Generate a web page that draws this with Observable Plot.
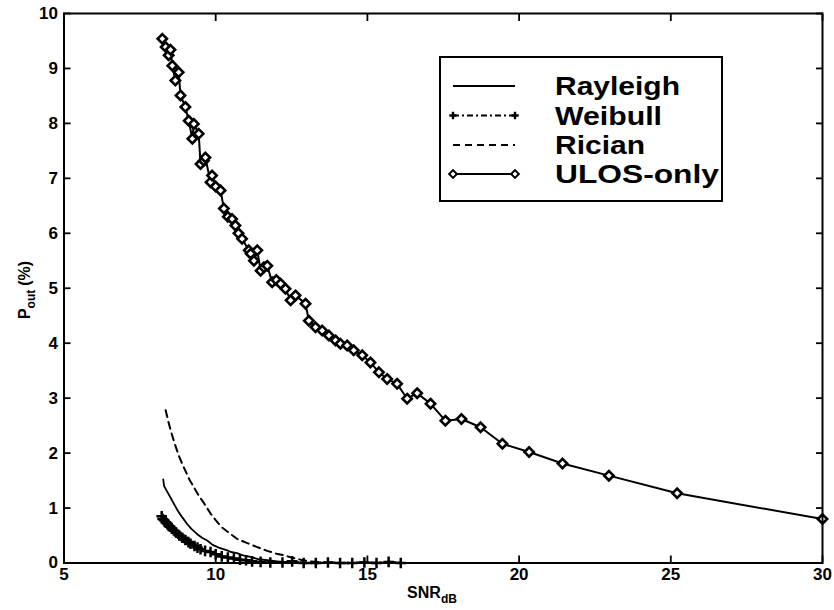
<!DOCTYPE html>
<html>
<head>
<meta charset="utf-8">
<script src="https://cdn.jsdelivr.net/npm/d3@7"></script>
<script src="https://cdn.jsdelivr.net/npm/@observablehq/plot@0.6"></script>
<style>
  body { margin: 0; background: #fff; }
  #wrap { position: relative; width: 834px; height: 610px; }
  #legend { position: absolute; left: 439px; top: 56px; }
</style>
</head>
<body>
<div id="wrap"><div id="chart"></div><div id="legend"></div></div>
<script>
// ---- data ----
const xTicks = [5, 10, 15, 20, 25, 30];
const yTicks = [0, 1, 2, 3, 4, 5, 6, 7, 8, 9, 10];
const seriesNames = ["Rayleigh", "Weibull", "Rician", "ULOS-only"];

const ulosSnr = [8.24, 8.35, 8.45, 8.51, 8.57, 8.67, 8.78, 8.84, 9.00, 9.11, 9.23, 9.28, 9.44, 9.50, 9.61, 9.66, 9.83, 9.88, 10.00, 10.16, 10.27, 10.40, 10.54, 10.65, 10.75, 10.87, 11.09, 11.15, 11.26, 11.37, 11.48, 11.59, 11.70, 11.86, 12.00, 12.14, 12.30, 12.47, 12.63, 12.96, 13.07, 13.29, 13.51, 13.73, 13.95, 14.11, 14.33, 14.55, 14.83, 15.10, 15.38, 15.65, 15.98, 16.31, 16.64, 17.08, 17.57, 18.10, 18.73, 19.45, 20.33, 21.43, 22.96, 25.21, 30.00];
const ulosP   = [9.54, 9.39, 9.24, 9.34, 9.05, 8.78, 8.93, 8.51, 8.30, 8.05, 7.72, 7.99, 7.81, 7.26, 7.32, 7.38, 6.93, 7.05, 6.85, 6.78, 6.45, 6.30, 6.26, 6.14, 6.00, 5.90, 5.69, 5.63, 5.50, 5.69, 5.32, 5.38, 5.41, 5.11, 5.15, 5.08, 4.99, 4.78, 4.87, 4.72, 4.41, 4.29, 4.23, 4.14, 4.05, 3.99, 3.96, 3.87, 3.78, 3.65, 3.47, 3.35, 3.26, 2.99, 3.09, 2.90, 2.59, 2.62, 2.47, 2.17, 2.02, 1.81, 1.59, 1.27, 0.80];

const rayleighSnr = [8.27, 8.30, 8.40, 8.50, 8.62, 8.75, 8.90, 9.06, 9.20, 9.40, 9.55, 9.72, 9.90, 10.10, 10.20, 10.38, 10.50, 10.70, 10.90, 11.15, 11.40, 11.70, 12.03, 12.40, 12.80];
const rayleighP   = [1.52, 1.40, 1.30, 1.20, 1.08, 0.95, 0.83, 0.71, 0.62, 0.52, 0.46, 0.41, 0.33, 0.28, 0.26, 0.23, 0.20, 0.18, 0.14, 0.11, 0.07, 0.05, 0.03, 0.01, 0.00];

const ricianSnr = [8.35, 8.45, 8.55, 8.65, 8.78, 8.90, 9.05, 9.15, 9.28, 9.45, 9.60, 9.83, 10.00, 10.20, 10.49, 10.70, 11.00, 11.37, 11.70, 12.00, 12.24, 12.50, 12.80, 13.10, 13.50];
const ricianP   = [2.78, 2.55, 2.35, 2.17, 1.96, 1.80, 1.62, 1.50, 1.38, 1.22, 1.10, 0.90, 0.78, 0.65, 0.53, 0.44, 0.37, 0.29, 0.22, 0.17, 0.14, 0.10, 0.06, 0.03, 0.01];

const weibullSnr = [8.22, 8.25, 8.30, 8.35, 8.40, 8.45, 8.50, 8.55, 8.62, 8.70, 8.80, 8.90, 9.00, 9.10, 9.17, 9.30, 9.40, 9.50, 9.65, 9.83, 10.00, 10.20, 10.40, 10.60, 10.80, 11.00, 11.20, 11.48, 11.80, 12.20, 12.52, 12.90, 13.30, 13.70, 14.10, 14.50, 14.90, 15.30, 15.70, 16.10];
const weibullP   = [0.85, 0.80, 0.78, 0.74, 0.72, 0.68, 0.66, 0.63, 0.59, 0.55, 0.50, 0.46, 0.42, 0.38, 0.35, 0.31, 0.28, 0.25, 0.22, 0.20, 0.16, 0.12, 0.10, 0.08, 0.06, 0.05, 0.03, 0.02, 0.01, 0.01, 0.03, 0.00, 0.00, 0.01, 0.00, 0.00, 0.01, 0.00, 0.02, 0.00];

const toRows = (xs, ys) => xs.map((x, i) => ({x, y: ys[i]}));
const ulos = toRows(ulosSnr, ulosP);
const rayleigh = toRows(rayleighSnr, rayleighP);
const rician = toRows(ricianSnr, ricianP);
const weibull = toRows(weibullSnr, weibullP);

const FONT = "'Liberation Sans', Arial, Helvetica, sans-serif";
const W = 834, H = 610, ML = 63.5, MR = 12, MT = 13, MB = 47.5;
const TICK = 7;

const chart = Plot.plot({
  width: W,
  height: H,
  marginLeft: ML,
  marginRight: MR,
  marginTop: MT,
  marginBottom: MB,
  style: {fontFamily: FONT, fontSize: "17px", fontWeight: "bold", background: "#fff", color: "#000"},
  x: {domain: [5, 30], ticks: xTicks, label: null},
  y: {domain: [0, 10], ticks: yTicks, label: null},
  marks: [
    // inward ticks on all four sides (MATLAB style box): outward axis ticks shifted inside
    Plot.axisX(xTicks, {anchor: "bottom", tickSize: TICK, text: null, dy: -TICK, stroke: "#000", strokeWidth: 1.8}),
    Plot.axisX(xTicks, {anchor: "top", tickSize: TICK, text: null, dy: TICK, stroke: "#000", strokeWidth: 1.8}),
    Plot.axisY(yTicks, {anchor: "left", tickSize: TICK, text: null, dx: TICK, stroke: "#000", strokeWidth: 1.8}),
    Plot.axisY(yTicks, {anchor: "right", tickSize: TICK, text: null, dx: -TICK, stroke: "#000", strokeWidth: 1.8}),
    Plot.axisX(xTicks, {anchor: "bottom", tickSize: 0, tickPadding: 5, tickFormat: d => String(d), fontSize: 17, fontWeight: "bold"}),
    Plot.axisY(yTicks, {anchor: "left", tickSize: 0, tickPadding: 6, tickFormat: d => String(d), fontSize: 17, fontWeight: "bold"}),
    // curves
    Plot.line(rician, {x: "x", y: "y", stroke: "#000", strokeWidth: 2, strokeDasharray: "7,5"}),
    Plot.line(rayleigh, {x: "x", y: "y", stroke: "#000", strokeWidth: 1.8}),
    Plot.line(weibull, {x: "x", y: "y", stroke: "#000", strokeWidth: 2.5, strokeDasharray: "6,3,2,3"}),
    Plot.dot(weibull, {x: "x", y: "y", symbol: "plus", r: 3.5, stroke: "#000", strokeWidth: 2.5}),
    Plot.line(ulos, {x: "x", y: "y", stroke: "#000", strokeWidth: 2}),
    Plot.dot(ulos, {x: "x", y: "y", symbol: "diamond2", r: 4.2, fill: "#fff", stroke: "#000", strokeWidth: 2.6}),
    Plot.frame({stroke: "#000", strokeWidth: 2})
  ]
});
document.getElementById("chart").appendChild(chart);

// axis titles with subscripts
const svg = d3.select(chart);
const yl = svg.append("text")
  .attr("transform", "translate(30,290) rotate(-90)")
  .attr("text-anchor", "middle")
  .style("font-family", FONT).style("font-weight", "bold").style("font-size", "16px");
yl.append("tspan").text("P");
yl.append("tspan").attr("dy", 5).style("font-size", "12px").text("out");
yl.append("tspan").attr("dy", -5).attr("dx", 4).text("(%)");

const xl = svg.append("text")
  .attr("x", 432).attr("y", 598)
  .attr("text-anchor", "middle")
  .style("font-family", FONT).style("font-weight", "bold").style("font-size", "16px");
xl.append("tspan").text("SNR");
xl.append("tspan").attr("dy", 5).style("font-size", "12px").text("dB");

// legend box
const lw = 284, lh = 146;
const lg = d3.select("#legend").append("svg").attr("width", lw).attr("height", lh);
lg.append("rect").attr("x", 1).attr("y", 1).attr("width", lw - 2).attr("height", lh - 2)
  .attr("fill", "#fff").attr("stroke", "#000").attr("stroke-width", 2);
const rowsY = [30, 59.5, 89, 118];
const textW = [125, 107, 90, 164];
const dashes = [null, "6,3,2,3", "7,5", null];
seriesNames.forEach((name, i) => {
  const y = rowsY[i];
  lg.append("line").attr("x1", 14).attr("x2", 76).attr("y1", y).attr("y2", y)
    .attr("stroke", "#000").attr("stroke-width", 2)
    .attr("stroke-dasharray", dashes[i]);
  if (i === 1) {
    [14, 76].forEach(px => lg.append("path").attr("d", d3.symbol(d3.symbolCross, 30)())
      .attr("transform", `translate(${px},${y})`).attr("fill", "#000"));
  }
  if (i === 3) {
    [14, 76].forEach(px => lg.append("path").attr("d", d3.symbol(d3.symbolSquare, 30)())
      .attr("transform", `translate(${px},${y}) rotate(45)`).attr("fill", "#fff")
      .attr("stroke", "#000").attr("stroke-width", 2));
  }
  lg.append("text").attr("x", 116).attr("y", y + 9)
    .attr("textLength", textW[i]).attr("lengthAdjust", "spacingAndGlyphs")
    .style("font-family", FONT).style("font-size", "26px").style("font-weight", "bold")
    .text(name);
});
</script>
</body>
</html>
